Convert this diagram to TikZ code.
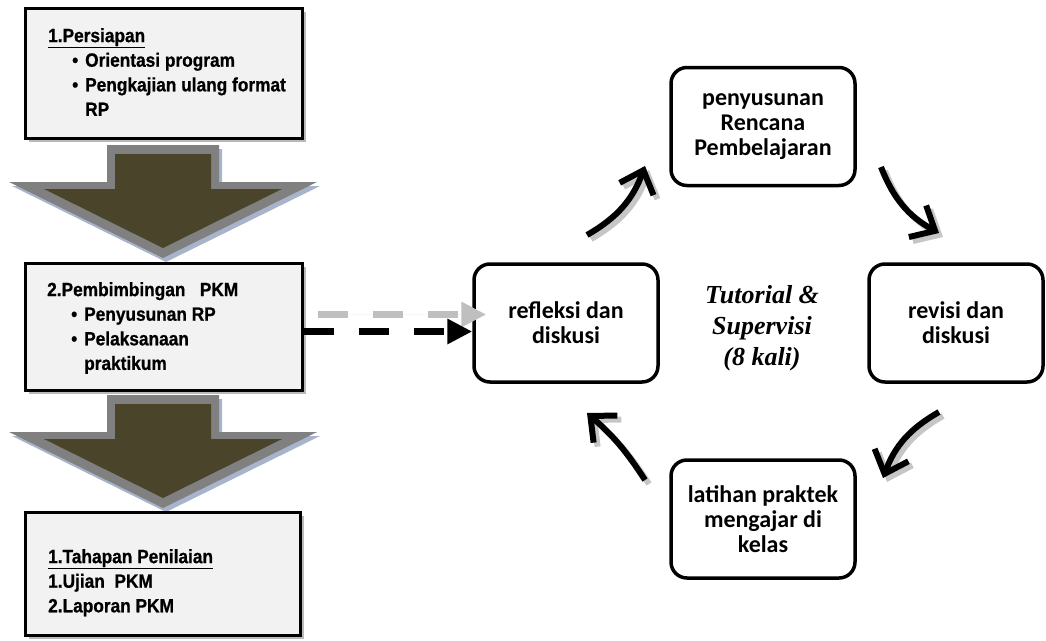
\documentclass[tikz,border=0pt]{standalone}
\usepackage{fontspec}
\setmainfont[FakeStretch=0.9,BoldFeatures={FakeBold=0.8}]{Liberation Sans}
\newfontfamily\calfont{Carlito}
\newfontfamily\serfont{Liberation Serif}
\usetikzlibrary{arrows.meta,shadows}

\definecolor{boxgray}{HTML}{F2F2F2}
\definecolor{arrowrim}{HTML}{808080}
\definecolor{arrowfill}{HTML}{4A442A}
\definecolor{arrowshade}{HTML}{A8B4CC}

\begin{document}
\begin{tikzpicture}[x=1pt,y=-1pt]
\tikzset{
	phase box/.style={
		draw,
		rectangle,
		line width=3pt,
		fill=boxgray,
		inner sep=0pt,
		drop shadow={shadow xshift=4pt,shadow yshift=-4pt,fill=gray!55,opacity=1}
	},
	phase text/.style={
		anchor=north west,
		align=left,
		inner sep=0pt,
		font=\fontsize{19.2}{24.6}\selectfont\bfseries
	},
	cycle box/.style={
		draw,
		rectangle,
		line width=3.5pt,
		rounded corners=16pt,
		minimum width=184pt,
		minimum height=118pt,
		align=center,
		font=\calfont\bfseries\fontsize{24}{25}\selectfont
	},
	cycle arrow/.style={
		line width=6pt,
		-{Straight Barb[length=20pt,width=36pt]}
	},
	flow dash/.style={
		line width=7pt,
		dash pattern=on 30pt off 25pt,
		-{Triangle[length=25pt,width=24pt]}
	}
}
\def\itm{\hspace*{24pt}\makebox[13pt][l]{\textbullet}}
\useasboundingbox (0,0) rectangle (1046,640);

% block arrows between the phases
\foreach \dy in {0,250}
{
	\begin{scope}[shift={(0,\dy)}]
		\fill[arrowshade,shift={(3,4)}] (107,145) -- (219,145) -- (219,182) -- (317,182) -- (163,258) -- (9,182) -- (107,182) -- cycle;
		\fill[arrowrim] (107,145) -- (219,145) -- (219,182) -- (317,182) -- (163,258) -- (9,182) -- (107,182) -- cycle;
		\fill[arrowfill] (115,154) -- (211,154) -- (211,189) -- (282,189) -- (163,248) -- (44,189) -- (115,189) -- cycle;
	\end{scope}
}

% phases
\node[phase box,minimum width=277pt,minimum height=130pt] (persiapan) at (163.5,73) {};
\node[phase box,minimum width=277pt,minimum height=127pt] (pembimbingan) at (163.5,326.5) {};
\node[phase box,minimum width=275pt,minimum height=123pt] (penilaian) at (162.5,573.5) {};

\node[phase text] (persiapan text) at (48,28) {\underline{1.Persiapan}\\
	\itm Orientasi program\\
	\itm Pengkajian ulang format\\
	\hspace*{37pt}RP};
\node[phase text] (pembimbingan text) at (47,282) {2.Pembimbingan\ \ \ PKM\\
	\itm Penyusunan RP\\
	\itm Pelaksanaan\\
	\hspace*{37pt}praktikum};
\node[phase text] (penilaian text) at (48,549) {\underline{1.Tahapan Penilaian}\\
	1.Ujian\ \ PKM\\
	2.Laporan PKM};

% cycle
\node[cycle box] (rpp) at (763,126.5) {penyusunan\\Rencana\\Pembelajaran};
\node[cycle box] (refleksi) at (566,323) {refleksi dan\\diskusi};
\node[cycle box,minimum width=174pt] (revisi) at (956,323) {revisi dan\\diskusi};
\node[cycle box] (latihan) at (763,519) {latihan praktek\\mengajar di\\kelas};
\node[font=\serfont\bfseries\itshape\fontsize{26}{31}\selectfont,align=center] (tutorial) at (762,328) {Tutorial \&\\Supervisi\\(8 kali)};

\coordinate (c1s) at (587,235);
\coordinate (c1e) at (645,166);
\coordinate (c2s) at (881,167);
\coordinate (c2e) at (939,233);
\coordinate (c3s) at (939,412);
\coordinate (c3e) at (883,478);
\coordinate (c4s) at (645,480);
\coordinate (c4e) at (587,413);
\foreach \s/\c in {4/gray!45,0/black}
{
	\begin{scope}[transform canvas={shift={(\s,\s)}}]
		\draw[cycle arrow,draw=\c] (c1s) to[bend right=20] (c1e);
		\draw[cycle arrow,draw=\c] (c2s) to[bend right=20] (c2e);
		\draw[cycle arrow,draw=\c] (c3s) to[bend right=20] (c3e);
		\draw[cycle arrow,draw=\c] (c4s) to[bend right=8] (c4e);
	\end{scope}
}

% link to the cycle
\draw[flow dash,draw=gray!50,fill=gray!50,transform canvas={shift={(14,-17)}}] ([yshift=-5pt]pembimbingan.east) -- ([yshift=-5pt]pembimbingan.east -| refleksi.west);
\draw[flow dash] ([yshift=-5pt]pembimbingan.east) -- ([yshift=-5pt]pembimbingan.east -| refleksi.west);
\end{tikzpicture}
\end{document}
